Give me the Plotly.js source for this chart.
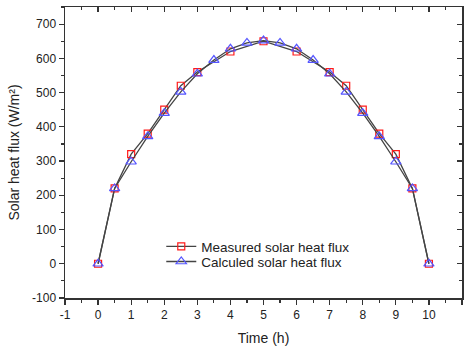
<!DOCTYPE html>
<html><head><meta charset="utf-8">
<script src="https://cdn.plot.ly/plotly-3.0.1.min.js"></script>
<style>html,body{margin:0;padding:0;background:#fff}#chart{width:466px;height:351px}</style>
</head><body><div id="chart"></div>
<script>
const measuredTime = [0, 0.5, 1, 1.5, 2, 2.5, 3, 4, 5, 6, 7, 7.5, 8, 8.5, 9, 9.5, 10];
const measuredFlux = [0, 220, 320, 380, 450, 520, 560, 620, 650, 620, 560, 520, 450, 380, 320, 220, 0];
const calcTime = [0, 0.5, 1, 1.5, 2, 2.5, 3, 3.5, 4, 4.5, 5, 5.5, 6, 6.5, 7, 7.5, 8, 8.5, 9, 9.5, 10];
const calcFlux = [0, 220, 298, 372, 440, 502, 555, 595, 628, 645, 652, 645, 628, 595, 555, 502, 440, 372, 298, 220, 0];
const xTickVals = [-1, 0, 1, 2, 3, 4, 5, 6, 7, 8, 9, 10, 11];
const xTickText = ['-1', '0', '1', '2', '3', '4', '5', '6', '7', '8', '9', '10', '11'];
const yTickVals = [-100, 0, 100, 200, 300, 400, 500, 600, 700];
const yTickText = ['-100', '0', '100', '200', '300', '400', '500', '600', '700'];

const font = {family: 'Liberation Sans, Arial, sans-serif', color: '#222'};
const axCommon = {showgrid: false, zeroline: false, showline: true, linecolor: '#333', linewidth: 1.5,
  ticklen: 5, tickwidth: 1.2, tickcolor: '#333'};

const traces = [
  {x: measuredTime, y: measuredFlux, name: 'Measured solar heat flux', mode: 'lines+markers', legend: 'legend',
   line: {color: '#444', width: 1.3},
   marker: {symbol: 'square-open', size: 7, color: '#ff1a1a', line: {width: 1.2}}},
  {x: calcTime, y: calcFlux, name: 'Calculed solar heat flux', mode: 'lines+markers', legend: 'legend2',
   line: {color: '#444', width: 1.3},
   marker: {symbol: 'triangle-up-open', size: 9, color: '#5555ff', line: {width: 1.2}}},
  {x: [], y: [], xaxis: 'x2', yaxis: 'y2', showlegend: false, hoverinfo: 'skip'}
];

const legendCommon = {xanchor: 'left', yanchor: 'top', bgcolor: 'rgba(0,0,0,0)',
  font: Object.assign({size: 13.5}, font)};

const layout = {
  width: 466, height: 351,
  margin: {l: 65, r: 4, t: 7, b: 53},
  paper_bgcolor: '#fff', plot_bgcolor: '#fff',
  font: Object.assign({size: 12}, font),
  showlegend: true,
  legend: Object.assign({x: 0.2425, y: 0.23}, legendCommon),
  legend2: Object.assign({x: 0.2425, y: 0.178}, legendCommon),
  xaxis: Object.assign({}, axCommon, {range: [-1, 11], tickmode: 'array', tickvals: xTickVals, ticktext: xTickText,
    ticks: 'outside',
    minor: {dtick: 0.5, tick0: -1, ticks: 'outside', ticklen: 3, tickcolor: '#333'},
    tickfont: Object.assign({size: 12}, font),
    title: {text: 'Time (h)', font: Object.assign({size: 14}, font), standoff: 12}}),
  yaxis: Object.assign({}, axCommon, {range: [-100, 750], tickmode: 'array', tickvals: yTickVals, ticktext: yTickText,
    ticks: 'outside',
    minor: {dtick: 50, tick0: -100, ticks: 'outside', ticklen: 3, tickcolor: '#333'},
    tickfont: Object.assign({size: 12}, font),
    title: {text: 'Solar heat flux (W/m²)', font: Object.assign({size: 14}, font), standoff: 9}}),
  xaxis2: Object.assign({}, axCommon, {overlaying: 'x', side: 'top', range: [-1, 11], dtick: 1, tick0: -1,
    ticks: 'inside', showticklabels: false, minor: {dtick: 0.5, ticks: 'inside', ticklen: 3, tickcolor: '#333'}}),
  yaxis2: Object.assign({}, axCommon, {overlaying: 'y', side: 'right', range: [-100, 750], dtick: 100, tick0: -100,
    ticks: 'inside', showticklabels: false, minor: {dtick: 50, ticks: 'inside', ticklen: 3, tickcolor: '#333'}})
};

Plotly.newPlot('chart', traces, layout, {displayModeBar: false, staticPlot: true});
</script></body></html>
